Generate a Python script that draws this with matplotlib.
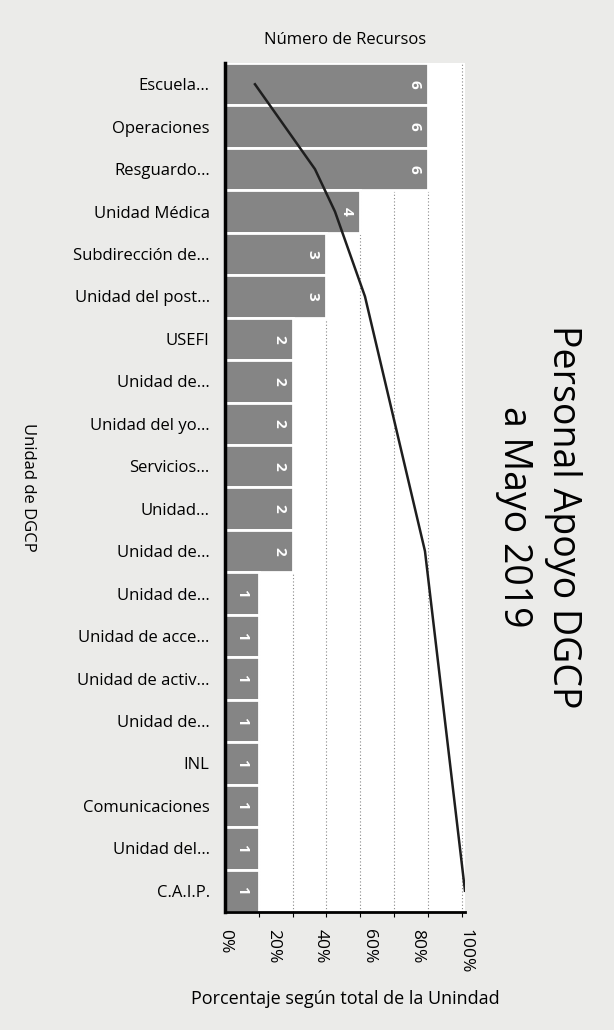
import matplotlib.pyplot as plt

plt.rcParams['font.family'] = ['Open Sans', 'DejaVu Sans']

categorias = ['Escuela…', 'Operaciones', 'Resguardo…', 'Unidad Médica', 'Subdirección de…',
              'Unidad del post…', 'USEFI', 'Unidad de…', 'Unidad del yo…', 'Servicios…',
              'Unidad…', 'Unidad de…', 'Unidad de…', 'Unidad de acce…', 'Unidad de activ…',
              'Unidad de…', 'INL', 'Comunicaciones', 'Unidad del…', 'C.A.I.P.']
recursos = [6, 6, 6, 4, 3, 3, 2, 2, 2, 2, 2, 2, 1, 1, 1, 1, 1, 1, 1, 1]
pct_ticks = [0, 0.2, 0.4, 0.6, 0.8, 1.0]
pct_labels = ['0%', '20%', '40%', '60%', '80%', '100%']

total = sum(recursos)
acum = []
s = 0
for v in recursos:
    s += v
    acum.append(s / total)

y = list(range(len(categorias)))

fig = plt.figure(figsize=(6.14, 10.30), dpi=100, facecolor='#ebebe9')
ax = fig.add_axes([0.3664, 0.1146, 0.3909, 0.8242])
ax.set_facecolor('white')

ax.barh(y, recursos, height=1.0, color='#858585', edgecolor='white', linewidth=2, zorder=2)
for yi, v in zip(y, recursos):
    ax.text(v - 0.4 if v > 1 else v / 2, yi, str(v), rotation=-90, color='white', fontsize=11,
            fontweight='bold', ha='center', va='center', zorder=3)

ax.set_xlim(0, 7.1)
ax.set_ylim(len(categorias) - 0.5, -0.5)
ax.set_xticks(range(1, 8))
ax.xaxis.grid(True, color='#888888', linestyle=(0, (1, 2)), linewidth=0.8, zorder=1)
ax.tick_params(axis='x', top=False, bottom=False, labeltop=False, labelbottom=False)
ax.xaxis.set_label_position('top')
ax.set_xlabel('Número de Recursos', fontsize=12, labelpad=14)
ax.set_yticks(y)
ax.set_yticklabels(categorias, fontsize=12)
ax.tick_params(axis='y', length=0, pad=11)
ax.set_ylabel('Unidad de DGCP', rotation=-90, fontsize=12)
ax.yaxis.set_label_coords(-0.855, 0.5)

for side in ['top', 'right']:
    ax.spines[side].set_visible(False)
ax.spines['left'].set_linewidth(2.5)
ax.spines['bottom'].set_linewidth(2)

axp = ax.twiny()
axp.plot(acum, y, color='#1e1e1e', linewidth=1.8, zorder=4)
axp.set_xlim(0, 1.0)
axp.xaxis.set_ticks_position('bottom')
axp.xaxis.set_label_position('bottom')
axp.set_xticks(pct_ticks)
axp.set_xticklabels(pct_labels, rotation=-90, fontsize=12.5)
axp.tick_params(axis='x', length=0, pad=12)
axp.set_xlabel('Porcentaje según total de la Unindad', fontsize=13, labelpad=12)
for side in ['top', 'right', 'left', 'bottom']:
    axp.spines[side].set_visible(False)

fig.text(0.877, 0.498, 'Personal Apoyo DGCP\na Mayo 2019', rotation=-90,
         fontsize=27, ha='center', va='center', multialignment='center', linespacing=1.4)

fig.savefig('out.png', dpi=100, facecolor=fig.get_facecolor())
